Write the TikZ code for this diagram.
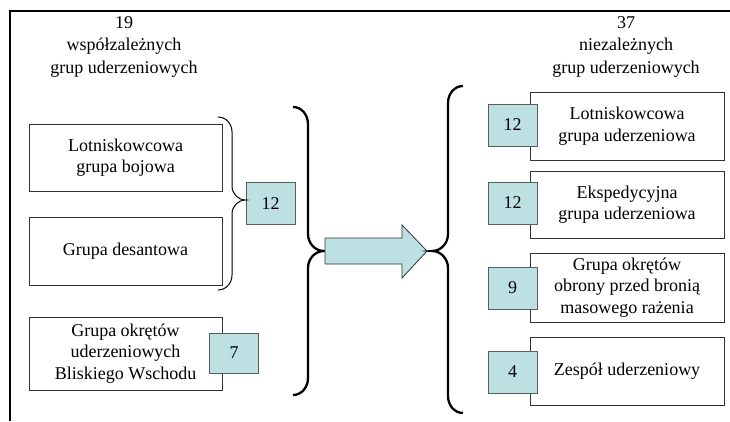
\documentclass[tikz,border=0pt]{standalone}
\usepackage{fontspec}
\setmainfont{Liberation Serif}
\definecolor{numfill}{HTML}{BDE0E3}
\definecolor{boxline}{HTML}{333333}
\begin{document}
\begin{tikzpicture}[x=1pt,y=-1pt,
  txt/.style={font=\fontsize{18}{21.5}\selectfont, align=center, inner sep=0pt},
  title/.style={font=\fontsize{18}{22.5}\selectfont, align=center, inner sep=0pt},
  grpbox/.style={txt, draw=boxline, line width=0.9pt, fill=white, minimum width=193pt},
  numbox/.style={txt, draw=boxline!80, line width=0.8pt, fill=numfill, minimum width=49pt, minimum height=42pt},
  thinbrace/.style={line width=1pt, black},
  bigbrace/.style={line width=2.3pt, black},
  framel/.style={line width=2pt, black}
]
\useasboundingbox (0,0) rectangle (730,421);
% frame
\coordinate (ftl) at (10,11);
\coordinate (ftr) at (730,11);
\coordinate (fbl) at (10,421);
\draw[framel] (ftr) -- (ftl) -- (fbl);

% titles
\node[title] (tl) at (124,46.5) {19\\współzależnych\\grup uderzeniowych};
\node[title] (tr) at (626,46.5) {37\\niezależnych\\grup uderzeniowych};

% left boxes
\node[grpbox, minimum height=67pt] (l1) at (125.5,157.5) {Lotniskowcowa\\grupa bojowa};
\node[grpbox, minimum height=68pt] (l2) at (125.5,251) {Grupa desantowa};
\node[grpbox, minimum height=73pt] (l3) at (125.5,353.5) {Grupa okrętów\\uderzeniowych\\Bliskiego Wschodu};
\node[numbox] (n12l) at (270.5,203.5) {12};
\node[numbox, minimum height=40pt] (n7) at (234,353) {7};

% small brace
\coordinate (sbt) at (218,117);
\coordinate (sbb) at (218,290);
\draw[thinbrace] (sbt) to[out=0,in=90] (232,132) -- (232,186)
  to[out=270,in=180] (n12l.west |- 0,200)
  to[out=180,in=90] (232,214) -- (232,275) to[out=270,in=0] (sbb);

% big left brace
\coordinate (bbt) at (293,107);
\coordinate (bbb) at (293,395);
\coordinate (bbtip) at (324,251);
\draw[bigbrace] (bbt) to[out=0,in=90] (308,124) -- (308,234)
  to[out=270,in=180] (bbtip)
  to[out=180,in=90] (308,268) -- (308,378) to[out=270,in=0] (bbb);

% arrow
\draw[draw=boxline, line width=0.8pt, fill=numfill]
  (325,238) -- (402,238) -- (402,225) -- (427,251) -- (402,278) -- (402,264) -- (325,264) -- cycle;

% right brace
\coordinate (rbt) at (463,86);
\coordinate (rbb) at (463,413);
\coordinate (rbtip) at (432,251);
\draw[bigbrace] (rbt) to[out=180,in=90] (448,103) -- (448,234)
  to[out=270,in=0] (rbtip)
  to[out=0,in=90] (448,268) -- (448,396) to[out=270,in=180] (rbb);

% right boxes
\node[grpbox, minimum width=194pt, minimum height=68pt] (r1) at (627,126) {Lotniskowcowa\\grupa uderzeniowa};
\node[grpbox, minimum width=194pt, minimum height=67pt] (r2) at (627,204.5) {Ekspedycyjna\\grupa uderzeniowa};
\node[grpbox, minimum width=194pt, minimum height=69pt] (r3) at (627,287.5) {Grupa okrętów\\obrony przed bronią\\masowego rażenia};
\node[grpbox, minimum width=194pt, minimum height=68pt] (r4) at (627,371) {Zespół uderzeniowy};
\node[numbox] (n1) at (512.5,125) {12};
\node[numbox] (n2) at (512.5,203) {12};
\node[numbox] (n3) at (512.5,288) {9};
\node[numbox] (n4) at (512.5,372) {4};
\end{tikzpicture}
\end{document}
